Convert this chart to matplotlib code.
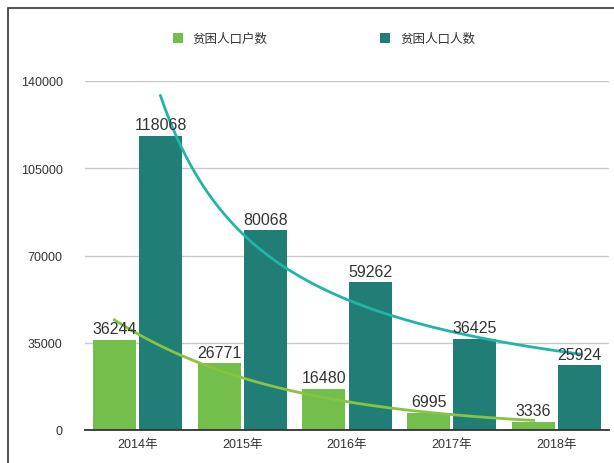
import numpy as np
import matplotlib.pyplot as plt
from matplotlib.patches import Rectangle

plt.rcParams['font.family'] = ['Liberation Sans', 'Noto Sans CJK SC']

years = ['2014年', '2015年', '2016年', '2017年', '2018年']
households = [36244, 26771, 16480, 6995, 3336]
people = [118068, 80068, 59262, 36425, 25924]
yticks = [0, 35000, 70000, 105000, 140000]

green = '#74BF4B'
teal = '#217E76'
green_line = '#86C441'
teal_line = '#22B5A6'

fig = plt.figure(figsize=(6.14, 4.64), dpi=100)
ax = fig.add_axes([85 / 614, 33 / 464, 524 / 614, 349 / 464])

x = np.arange(len(years))
w = 0.41
off = 0.22
ax.bar(x - off, households, w, color=green, label='贫困人口户数', zorder=3)
ax.bar(x + off, people, w, color=teal, label='贫困人口人数', zorder=3)

for xi, h, p in zip(x, households, people):
    ax.text(xi - off, h + 1500, str(h), ha='center', va='bottom', fontsize=11.5, color='#333333', zorder=5)
    ax.text(xi + off, p + 1500, str(p), ha='center', va='bottom', fontsize=11.5, color='#333333', zorder=5)

# trend lines: exponential for households, power for people
t = np.arange(1, len(years) + 1)
ts = np.linspace(1, len(years), 200)
b, a = np.polyfit(t, np.log(households), 1)
ax.plot(ts - 1 - off, np.exp(a + b * ts), color=green_line, lw=2, zorder=4, clip_on=False)
b2, a2 = np.polyfit(np.log(t), np.log(people), 1)
ax.plot(ts - 1 + off, np.exp(a2) * ts ** b2, color=teal_line, lw=2, zorder=4, clip_on=False)

ax.set_xlim(-0.5, len(years) - 0.5)
ax.set_ylim(0, 140000)
ax.set_yticks(yticks)
ax.set_yticklabels([str(v) for v in yticks])
ax.set_xticks(x)
ax.set_xticklabels(years)
ax.tick_params(axis='both', length=0, labelsize=9, colors='#333333')
ax.tick_params(axis='y', pad=16)
ax.tick_params(axis='x', pad=6)
ax.grid(axis='y', color='#c8c8c8', lw=1, zorder=0)
for s in ['top', 'right', 'left']:
    ax.spines[s].set_visible(False)
ax.spines['bottom'].set_color('#333333')
ax.spines['bottom'].set_linewidth(1.3)
ax.spines['bottom'].set_zorder(6)

fig.legend(loc='center', bbox_to_anchor=(324 / 614, 1 - 40 / 464), ncol=2, frameon=False,
           handlelength=0.8, handleheight=0.8, columnspacing=9, fontsize=9,
           labelcolor='#333333', handletextpad=0.8)

fig.patches.append(Rectangle((8 / 614, -0.1), 1.0, 1.1 - 9 / 464, transform=fig.transFigure,
                             fill=False, edgecolor='#333333', lw=1.2))

fig.savefig('out.png', dpi=100)
